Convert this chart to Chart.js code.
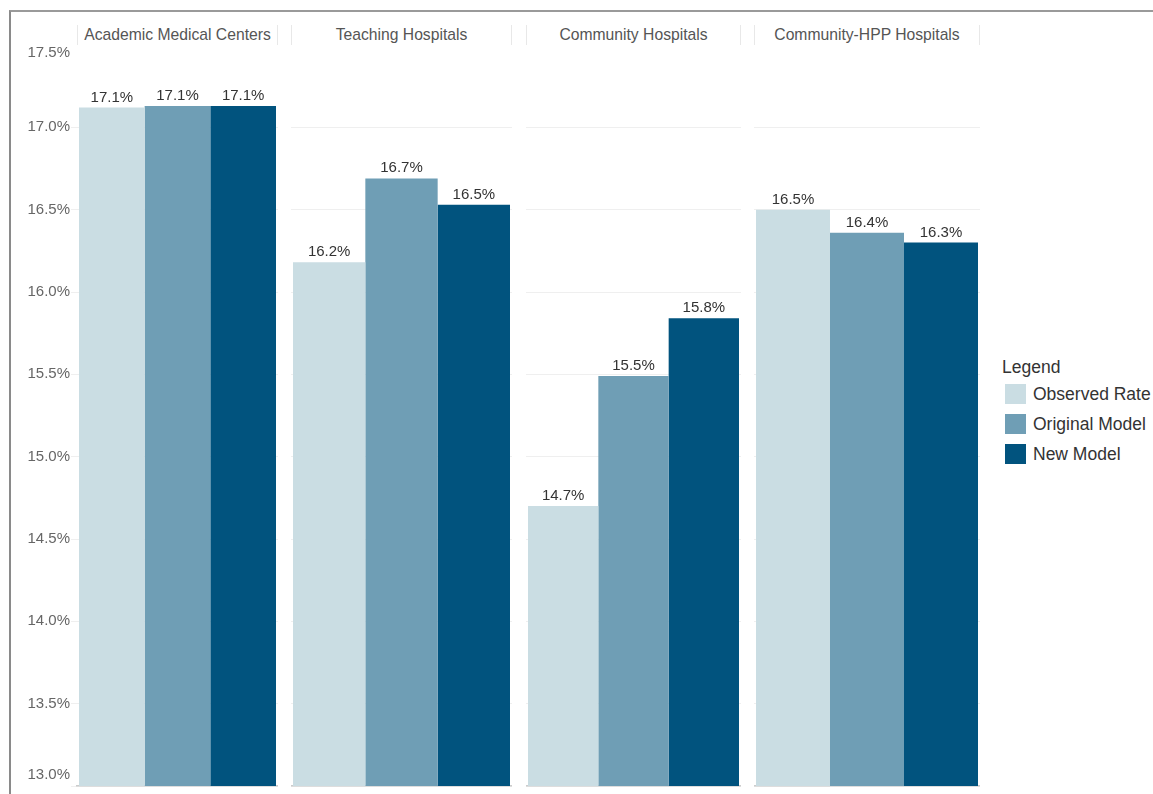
<!DOCTYPE html>
<html>
<head>
<meta charset="utf-8">
<script src="https://cdn.jsdelivr.net/npm/chart.js@4"></script>
<style>
  body { margin: 0; background: #fff; font-family: "Liberation Sans", Arial, sans-serif; }
  #page { position: relative; width: 1153px; height: 794px; overflow: hidden; }
  .frame { position: absolute; left: 9px; top: 10px; right: -5px; bottom: -5px;
           border-top: 2px solid #9a9a9a; border-left: 2px solid #8a8a8a; }
  .panel { position: absolute; top: 0; }
  .header { position: absolute; top: 25px; height: 20px; line-height: 20px; text-align: center;
            font-size: 15.7px; color: #555; border-left: 1px solid #e8e8e8; border-right: 1px solid #e8e8e8;
            box-sizing: border-box; white-space: nowrap; }
  .legend { position: absolute; left: 1002px; top: 357px; color: #333; font-size: 17.5px; white-space: nowrap; }
  .legend .title { height: 20px; line-height: 20px; margin-bottom: 2px; }
  .legend .item { height: 30px; display: flex; align-items: center; margin-left: 3px; }
  .legend .swatch { width: 21px; height: 20px; margin-right: 7px; flex: none; }
</style>
</head>
<body>
<div id="page">
  <div class="frame"></div>
  <div id="legend" class="legend"><div class="title">Legend</div></div>
</div>
<script>
const panels = ['Academic Medical Centers', 'Teaching Hospitals', 'Community Hospitals', 'Community-HPP Hospitals'];
const seriesNames = ['Observed Rate', 'Original Model', 'New Model'];
const observedRate = [17.12, 16.18, 14.70, 16.50];
const originalModel = [17.13, 16.69, 15.49, 16.36];
const newModel = [17.13, 16.53, 15.84, 16.30];
const yMin = 13.0;
const yMax = 17.5;
const yStep = 0.5;

const seriesValues = [observedRate, originalModel, newModel];
const colors = ['#cadde3', '#6f9eb5', '#01537e'];

// panel boxes on the page (left edge of plot area, width of plot area)
const boxes = [
  { left: 77, width: 201 },
  { left: 291, width: 221 },
  { left: 526, width: 215 },
  { left: 754, width: 226 },
];
const axisWidth = 67;
const pageEl = document.getElementById('page');

const valueLabels = {
  id: 'valueLabels',
  afterDatasetsDraw(chart) {
    const ctx = chart.ctx;
    ctx.save();
    ctx.font = '15px "Liberation Sans", Arial, sans-serif';
    ctx.fillStyle = '#333';
    ctx.textAlign = 'center';
    ctx.textBaseline = 'alphabetic';
    chart.data.datasets.forEach((ds, i) => {
      chart.getDatasetMeta(i).data.forEach((bar, j) => {
        ctx.fillText(ds.data[j].toFixed(1) + '%', bar.x, bar.y - 6);
      });
    });
    ctx.restore();
  }
};

const yLabels = {
  id: 'yLabels',
  afterDraw(chart) {
    if (!chart.options.plugins.yLabels.show) return;
    const scale = chart.scales.y;
    const area = chart.chartArea;
    const ctx = chart.ctx;
    ctx.save();
    ctx.font = '15px "Liberation Sans", Arial, sans-serif';
    ctx.fillStyle = '#666';
    ctx.textAlign = 'right';
    ctx.textBaseline = 'middle';
    scale.ticks.forEach(t => {
      let y = scale.getPixelForValue(t.value);
      y = Math.min(Math.max(y, area.top + 8), area.bottom - 11);
      ctx.fillText(t.value.toFixed(1) + '%', area.left - 7, y);
    });
    ctx.restore();
  }
};

panels.forEach((name, p) => {
  const box = boxes[p];
  const first = p === 0;
  const canvasLeft = first ? box.left - axisWidth : box.left;
  const canvasWidth = first ? box.width + axisWidth : box.width;

  const header = document.createElement('div');
  header.className = 'header';
  header.style.left = box.left + 'px';
  header.style.width = box.width + 'px';
  header.textContent = name;
  pageEl.appendChild(header);

  const wrap = document.createElement('div');
  wrap.className = 'panel';
  wrap.style.left = canvasLeft + 'px';
  const canvas = document.createElement('canvas');
  canvas.width = canvasWidth;
  canvas.height = 794;
  wrap.appendChild(canvas);
  pageEl.appendChild(wrap);

  new Chart(canvas.getContext('2d'), {
    type: 'bar',
    data: {
      labels: [name],
      datasets: seriesNames.map((s, i) => ({
        label: s,
        data: [seriesValues[i][p]],
        backgroundColor: colors[i],
        barPercentage: 1,
        categoryPercentage: (box.width - 4) / box.width,
      })),
    },
    options: {
      responsive: false,
      animation: false,
      layout: { padding: { top: 45, bottom: 8, left: 0, right: 0 } },
      plugins: {
        legend: { display: false },
        tooltip: { enabled: false },
        yLabels: { show: first },
      },
      scales: {
        x: {
          display: true,
          grid: { display: false },
          ticks: { display: false },
          border: { display: true, color: '#cccccc', width: 1.5 },
          afterFit: s => { s.height = 0; },
        },
        y: {
          min: yMin,
          max: yMax,
          ticks: { display: false, stepSize: yStep },
          grid: {
            color: c => (c.tick && c.tick.value === yMax) ? 'rgba(0,0,0,0)' : '#efefef',
            drawTicks: first,
            tickLength: 6,
          },
          border: { display: false },
          afterFit: s => { s.width = first ? axisWidth : 0; },
        },
      },
    },
    plugins: [valueLabels, yLabels],
  });
});

const legendEl = document.getElementById('legend');
seriesNames.forEach((s, i) => {
  const item = document.createElement('div');
  item.className = 'item';
  item.innerHTML = `<div class="swatch" style="background:${colors[i]}"></div><span>${s}</span>`;
  legendEl.appendChild(item);
});
</script>
</body>
</html>
